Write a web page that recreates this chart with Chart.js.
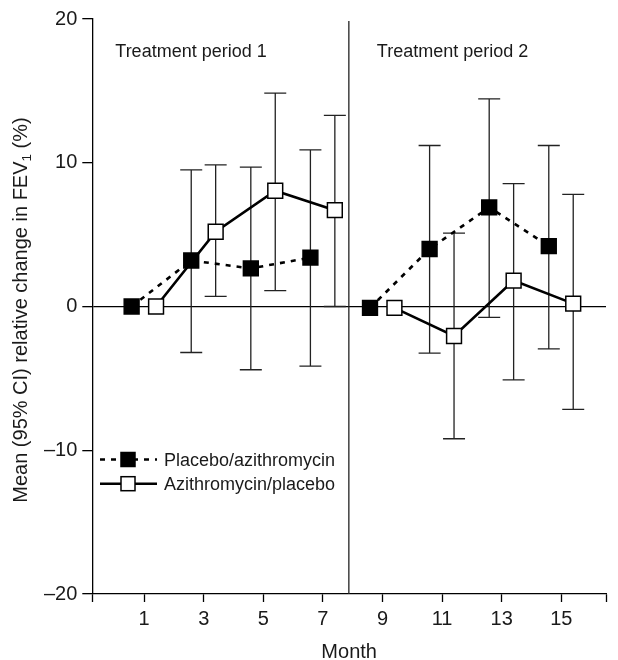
<!DOCTYPE html>
<html><head><meta charset="utf-8">
<style>html,body{margin:0;padding:0;background:#fff;}canvas{display:block;}</style>
<script src="https://cdn.jsdelivr.net/npm/chart.js@4.4.1/dist/chart.umd.min.js"></script>
</head><body>
<canvas id="c" width="618" height="660"></canvas>
<script>
// ---- data ----
const months = [1, 3, 5, 7, 9, 11, 13, 15];
const placeboMean  = [0, 3.2, 2.65, 3.4, -0.1, 4.0, 6.9, 4.2];
const placeboLower = [null, -3.2, -4.4, -4.15, null, -3.25, -0.75, -2.95];
const placeboUpper = [null, 9.5, 9.7, 10.9, null, 11.2, 14.45, 11.2];
const azithroMean  = [0, 5.2, 8.05, 6.7, -0.1, -2.05, 1.8, 0.2];
const azithroLower = [null, 0.7, 1.1, 0, null, -9.2, -5.1, -7.15];
const azithroUpper = [null, 9.85, 14.85, 13.3, null, 5.1, 8.55, 7.8];
const yTicks = [-20, -10, 0, 10, 20];
const xTickLabels = [1, 3, 5, 7, 9, 11, 13, 15];
const periodBoundary = 7.87;          // month where treatment period 2 starts
const xRange = [-0.74, 16.5];
const periodLabels = ['Treatment period 1', 'Treatment period 2'];
const seriesLabels = ['Placebo/azithromycin', 'Azithromycin/placebo'];
const yTitle = ['Mean (95% CI) relative change in FEV', '1', ' (%)'];
const xTitle = 'Month';

// ---- styling ----
const FONT = '"Liberation Sans", Arial, sans-serif';
const TXT = '#1a1a1a';
const dodge = [-0.42, 0.4];

function buildPoints(mean, off) {
  const pts = [];
  months.forEach((m, i) => {
    pts.push({x: m + off, y: mean[i]});
    if (m === 7) pts.push({x: periodBoundary, y: null});
  });
  return pts;
}

const series = [
  {label: seriesLabels[0], mean: placeboMean, lower: placeboLower, upper: placeboUpper, off: dodge[0], fill: '#000', dash: [5, 6]},
  {label: seriesLabels[1], mean: azithroMean, lower: azithroLower, upper: azithroUpper, off: dodge[1], fill: '#fff', dash: []}
];

const errorBars = {
  id: 'errorBars',
  beforeDatasetsDraw(chart) {
    const {ctx, scales: {x, y}} = chart;
    ctx.save();
    ctx.strokeStyle = '#222';
    ctx.lineWidth = 1.3;
    // period separator
    const sx = x.getPixelForValue(periodBoundary);
    ctx.beginPath();
    ctx.moveTo(sx, chart.chartArea.top + 2);
    ctx.lineTo(sx, chart.chartArea.bottom);
    ctx.stroke();
    series.forEach(s => {
      months.forEach((m, i) => {
        if (s.lower[i] == null) return;
        const px = x.getPixelForValue(m + s.off);
        const y1 = y.getPixelForValue(s.lower[i]);
        const y2 = y.getPixelForValue(s.upper[i]);
        ctx.beginPath();
        ctx.moveTo(px, y1); ctx.lineTo(px, y2);
        ctx.moveTo(px - 11, y1); ctx.lineTo(px + 11, y1);
        ctx.moveTo(px - 11, y2); ctx.lineTo(px + 11, y2);
        ctx.stroke();
      });
    });
    ctx.restore();
  }
};

const annotations = {
  id: 'annotations',
  afterDraw(chart) {
    const {ctx, chartArea, scales: {x}} = chart;
    ctx.save();
    ctx.fillStyle = TXT;
    ctx.textBaseline = 'alphabetic';
    ctx.textAlign = 'left';
    // period labels
    ctx.font = '18px ' + FONT;
    ctx.fillText(periodLabels[0], chartArea.left + 23, 57);
    ctx.fillText(periodLabels[1], x.getPixelForValue(periodBoundary) + 28, 57);
    // legend
    const rows = [459.5, 483.7];
    series.forEach((s, k) => {
      const ry = rows[k];
      ctx.save();
      ctx.strokeStyle = '#000';
      ctx.lineWidth = 2.6;
      ctx.setLineDash(s.dash);
      ctx.beginPath(); ctx.moveTo(100, ry); ctx.lineTo(157, ry); ctx.stroke();
      ctx.setLineDash([]);
      ctx.fillStyle = s.fill;
      ctx.lineWidth = 1.5;
      ctx.fillRect(121, ry - 7, 14, 14);
      ctx.strokeRect(121, ry - 7, 14, 14);
      ctx.restore();
      ctx.font = '18px ' + FONT;
      ctx.fillText(s.label, 164, ry + 6.5);
    });
    // x title
    ctx.textAlign = 'center';
    ctx.font = '20px ' + FONT;
    ctx.fillText(xTitle, (chartArea.left + chartArea.right) / 2, 658);
    // y title with subscript
    ctx.save();
    ctx.translate(26.5, 310);
    ctx.rotate(-Math.PI / 2);
    ctx.textAlign = 'left';
    const big = '20px ' + FONT, small = '13.5px ' + FONT;
    ctx.font = big; const w0 = ctx.measureText(yTitle[0]).width, w2 = ctx.measureText(yTitle[2]).width;
    ctx.font = small; const w1 = ctx.measureText(yTitle[1]).width;
    let tx = -(w0 + w1 + w2) / 2;
    ctx.font = big; ctx.fillText(yTitle[0], tx, 0); tx += w0;
    ctx.font = small; ctx.fillText(yTitle[1], tx, 4); tx += w1;
    ctx.font = big; ctx.fillText(yTitle[2], tx, 0);
    ctx.restore();
    ctx.restore();
  }
};

new Chart(document.getElementById('c'), {
  type: 'line',
  data: {
    datasets: series.map(s => ({
      label: s.label,
      data: buildPoints(s.mean, s.off),
      borderColor: '#000',
      borderWidth: 2.6,
      borderDash: s.dash,
      pointStyle: 'rect',
      pointRadius: 10.5,
      pointBackgroundColor: s.fill,
      pointBorderColor: '#000',
      pointBorderWidth: 1.5,
      spanGaps: false,
      tension: 0,
      fill: false
    }))
  },
  options: {
    responsive: false,
    animation: false,
    devicePixelRatio: 1,
    layout: {padding: {top: 19, right: -1, left: 0, bottom: 0}},
    plugins: {legend: {display: false}, tooltip: {enabled: false}},
    scales: {
      x: {
        type: 'linear',
        min: xRange[0], max: xRange[1],
        afterBuildTicks(scale) {
          scale.ticks = [{value: xRange[0]}].concat(xTickLabels.map(v => ({value: v})), [{value: xRange[1]}]);
        },
        afterFit(scale) { scale.height = 66; scale.paddingRight = 0; scale.paddingLeft = 0; },
        ticks: {
          autoSkip: false, maxRotation: 0, padding: 5,
          color: TXT, font: {family: FONT, size: 20},
          callback: v => xTickLabels.includes(v) ? String(v) : ''
        },
        grid: {drawOnChartArea: false, drawTicks: true, tickLength: 8, tickColor: '#000', tickWidth: 1.3},
        border: {display: true, color: '#000', width: 1.3}
      },
      y: {
        min: -20, max: 20,
        afterBuildTicks(scale) { scale.ticks = yTicks.map(v => ({value: v})); },
        afterFit(scale) { scale.width = 92.3; scale.paddingTop = 0; scale.paddingBottom = 0; },
        ticks: {
          padding: 5, color: TXT, font: {family: FONT, size: 20},
          callback: v => v < 0 ? '\u2013' + Math.abs(v) : String(v)
        },
        grid: {
          color: c => c.tick && c.tick.value === 0 ? '#000' : 'rgba(0,0,0,0)',
          lineWidth: 1.3, tickLength: 10, tickColor: '#000', tickWidth: 1.3
        },
        border: {display: true, color: '#000', width: 1.3}
      }
    }
  },
  plugins: [errorBars, annotations]
});
</script>
</body></html>
